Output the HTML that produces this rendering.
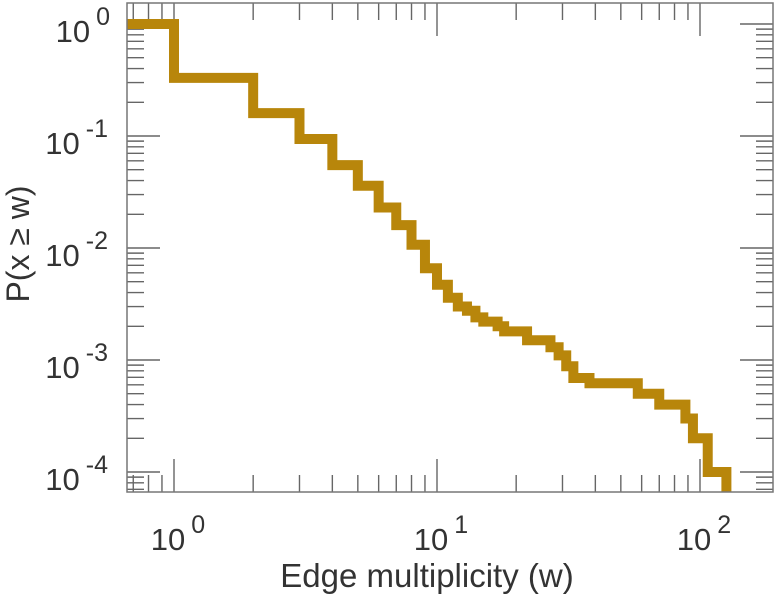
<!DOCTYPE html>
<html><head><meta charset="utf-8"><style>
html,body{margin:0;padding:0;background:#fff;}
svg{display:block;font-family:"Liberation Sans",sans-serif;}
</style></head><body>
<svg id="chart" width="775" height="600" viewBox="0 0 775 600" xmlns="http://www.w3.org/2000/svg">
<defs><clipPath id="pc"><rect x="127" y="3" width="646" height="489"/></clipPath></defs>
<g id="grid"></g>
<path id="series" clip-path="url(#pc)" fill="none" stroke="#B8860B" stroke-width="10" stroke-linejoin="miter" stroke-linecap="butt"></path>
<rect x="127" y="3" width="646" height="489" fill="none" stroke="#777" stroke-width="1.5"/>
<g id="labels" fill="#333"></g>
<text x="427" y="587" font-size="33" text-anchor="middle" fill="#333">Edge multiplicity (w)</text>
<text transform="translate(29,244) rotate(-90)" font-size="32" text-anchor="middle" fill="#333">P(x ≥ w)</text>
</svg>
<script>
// data: step drops — at multiplicity w, P(x>=w) falls to p
const stepW = [1,2,3,4,5,6,7,8,9,10,11,12,13,14,15,17,18,22,27,29,31,33,38,58,70,88,94,107,126];
const stepP = [0.33,0.16,0.094,0.055,0.036,0.023,0.016,0.0107,0.0066,0.0047,0.0036,0.0030,0.00275,0.0024,0.0022,0.0020,0.0018,0.0015,0.0013,0.0011,0.00088,0.00069,0.00062,0.0005,0.0004,0.0003,0.0002,0.0001,0.00004];
const startP = 1;
const xTickExp = [0,1,2];
const yTickExp = [0,-1,-2,-3,-4];

const NS = "http://www.w3.org/2000/svg";
function xs(w){ return 174 + 263*Math.log10(w); }
function ys(p){ return 24 - 112*Math.log10(p); }
const L=127,R=773,T=3,B=492;

let d = "M" + (L-10) + "," + ys(startP);
let prev = startP;
for (let i=0;i<stepW.length;i++){
  const x = xs(stepW[i]);
  d += " L" + x + "," + ys(prev) + " L" + x + "," + ys(stepP[i]);
  prev = stepP[i];
}
document.getElementById('series').setAttribute('d', d);

const grid = document.getElementById('grid');
function line(x1,y1,x2,y2,name){
  const l = document.createElementNS(NS,'line');
  l.setAttribute('x1',x1);l.setAttribute('y1',y1);l.setAttribute('x2',x2);l.setAttribute('y2',y2);
  l.setAttribute('stroke','#666');l.setAttribute('stroke-width','1.4');
  
  
  grid.appendChild(l);
}
for (let e=-1;e<=2;e++){
  for (let k=1;k<=9;k++){
    const x = xs(k*Math.pow(10,e));
    if (x<L||x>R) continue;
    const len = k===1?33:17;
    line(x,B,x,B-len,'x-tick');
    line(x,T,x,T+len,'x-tick-top');
  }
}
for (let e=-5;e<=0;e++){
  for (let k=1;k<=9;k++){
    const y = ys(k*Math.pow(10,e));
    if (y<T||y>B) continue;
    const len = k===1?33:17;
    line(L,y,L+len,y,'y-tick');
    line(R,y,R-len,y,'y-tick-right');
  }
}
const labels = document.getElementById('labels');
function lab(x,y,exp,anchor,name){
  const t = document.createElementNS(NS,'text');
  t.setAttribute('x',x);t.setAttribute('y',y);t.setAttribute('font-size','31');
  t.setAttribute('text-anchor',anchor);
  
  
  t.textContent = "10";
  const s = document.createElementNS(NS,'tspan');
  s.setAttribute('dx','6');s.setAttribute('dy','-17');s.setAttribute('font-size','25');
  s.textContent = String(exp);
  t.appendChild(s);
  labels.appendChild(t);
}
xTickExp.forEach(e=>{ lab(xs(Math.pow(10,e))+4, 550, e, 'middle', 'x-tick-label'); });
yTickExp.forEach(e=>{ lab(e===0?110:108, ys(Math.pow(10,e))+18, e, 'end', 'y-tick-label'); });
</script>
</body></html>
